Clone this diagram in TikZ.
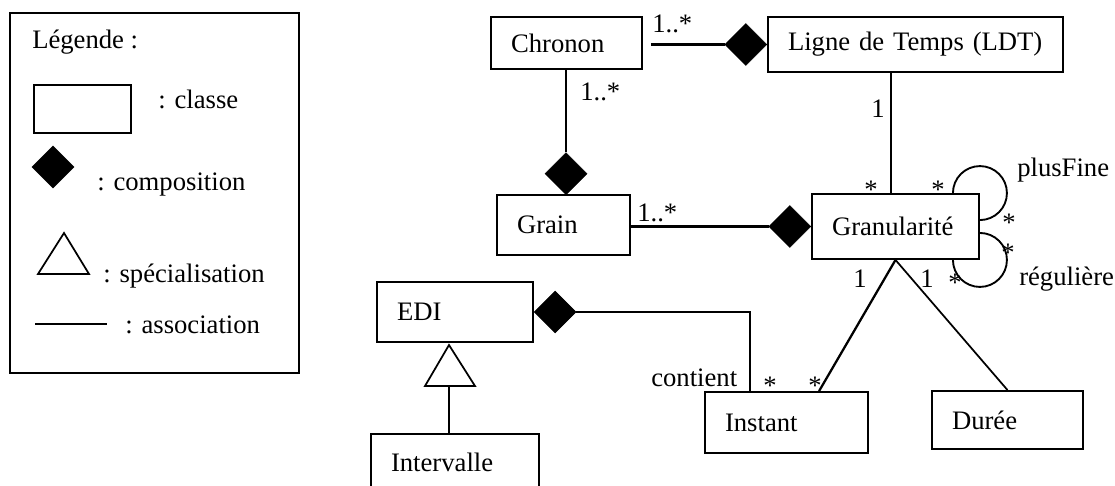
\documentclass[tikz,border=0pt]{standalone}
\usepackage{fontspec}
\setmainfont{Liberation Serif}
\usetikzlibrary{shapes.geometric}
\begin{document}
\begin{tikzpicture}[x=0.75pt,y=-0.75pt,
  every node/.style={font=\fontsize{20pt}{24pt}\selectfont},
  cls/.style={draw, line width=1.4pt, rectangle, inner xsep=15pt, inner ysep=0pt, align=left},
  comp/.style={diamond, fill=black, draw=black, inner sep=0pt, minimum width=31.5pt, minimum height=31.5pt},
  conn/.style={line width=1.7pt},
  lbl/.style={inner sep=0pt, anchor=base west}
]
\useasboundingbox (0,0) rectangle (1115,486);
\clip (0,0) rectangle (1115,486);

% ---------- legend ----------
\node[draw, line width=1.4pt, inner sep=0pt, minimum width=216.75pt, minimum height=270pt] (legend) at (154.5,193) {};
\node[lbl] (legtitle) at (32,48) {Légende :};
\node[draw, line width=1.4pt, inner sep=0pt, minimum width=72.75pt, minimum height=36pt] (legcls) at (82.5,109) {};
\node[lbl] (legclstxt) at (158,108) {: classe};
\node[comp] (legdiam) at (53,167) {};
\node[lbl] (legcomptxt) at (97,190) {: composition};
\draw[line width=1.3pt] (64,233) -- (89,274) -- (38,274) -- cycle;
\node[lbl] (legspectxt) at (103,282) {: spécialisation};
\coordinate (legA) at (35,324);
\coordinate (legB) at (107,324);
\draw[line width=1.3pt] (legA) -- (legB);
\node[lbl] (legassoctxt) at (125,333) {: association};

% ---------- classes ----------
\node[cls, text width=83.25pt, minimum height=39pt] (chronon) at (566.5,43) {Chronon};
\node[cls, text width=191.25pt, minimum height=41.25pt] (ldt) at (915.5,44.5) {Ligne de Temps (LDT)};
\node[cls, text width=69.75pt, minimum height=45pt] (grain) at (563.5,225) {Grain};
\node[cls, text width=95.25pt, minimum height=48.75pt] (gran) at (895.5,226.5) {Granularité};
\node[cls, text width=87pt, minimum height=45pt] (edi) at (455,312) {EDI};
\node[cls, text width=96pt, minimum height=42pt] (interv) at (455,462) {Intervalle};
\node[cls, text width=92.25pt, minimum height=45.75pt] (instant) at (786.5,422.5) {Instant};
\node[cls, text width=83.25pt, minimum height=43.5pt] (duree) at (1007.5,420) {Durée};

% ---------- compositions ----------
\node[comp, anchor=east] (d1) at (ldt.west) {};
\draw[conn, shorten <=6pt] (d1.west -| chronon.east) -- (d1.west);
\node[comp, anchor=south] (d2) at (566,195) {};
\draw[conn] (d2.north) -- (d2.north |- chronon.south);
\node[comp, anchor=east] (d3) at (gran.west) {};
\draw[conn] (d3.west -| grain.east) -- (d3.west);
\node[comp, anchor=west] (d4) at (edi.east) {};
\coordinate (contTop) at ([xshift=34.5pt]instant.north west);
\draw[conn] (d4.east) -| (contTop);

% ---------- specialisation ----------
\coordinate (triApex) at (449,345);
\coordinate (triB) at (449,386);
\draw[line width=1.3pt] (triApex) -- (475,386) -- (425,386) -- cycle;
\draw[conn] (triB) -- (triB |- interv.north);

% ---------- associations ----------
\coordinate (x891) at (891,0);
\draw[conn] (ldt.south -| x891) -- (gran.north -| x891);
\coordinate (instTop) at ([xshift=86.25pt]instant.north west);
\draw[conn] (gran.south) -- (instTop);
\draw[line width=1.3pt] (gran.south) -- (duree.north);
\draw[line width=1.4pt] ([xshift=-20.25pt]gran.north east) arc[start angle=180, end angle=450, radius=27];
\draw[line width=1.4pt] ([yshift=20.25pt]gran.south east) arc[start angle=270, end angle=540, radius=27];

% ---------- labels ----------
\node[lbl] (m1) at (652,32) {1..*};
\node[lbl] (m2) at (580,100) {1..*};
\node[lbl] (m3) at (871,117) {1};
\node[lbl] (m4) at (637,221) {1..*};
\node[lbl] (s1) at (864,198) {*};
\node[lbl] (s2) at (931,198) {*};
\node[lbl] (s3) at (1002,231) {*};
\node[lbl] (s4) at (1001,261) {*};
\node[lbl] (s5) at (948,291) {*};
\node[lbl] (m5) at (853,287) {1};
\node[lbl] (m6) at (920,287) {1};
\node[lbl] (plusfine) at (1017,176) {plusFine};
\node[lbl] (reguliere) at (1019,285) {régulière};
\node[lbl] (contient) at (651,386) {contient};
\node[lbl] (s6) at (763,394) {*};
\node[lbl] (s7) at (808,394) {*};
\end{tikzpicture}
\end{document}
